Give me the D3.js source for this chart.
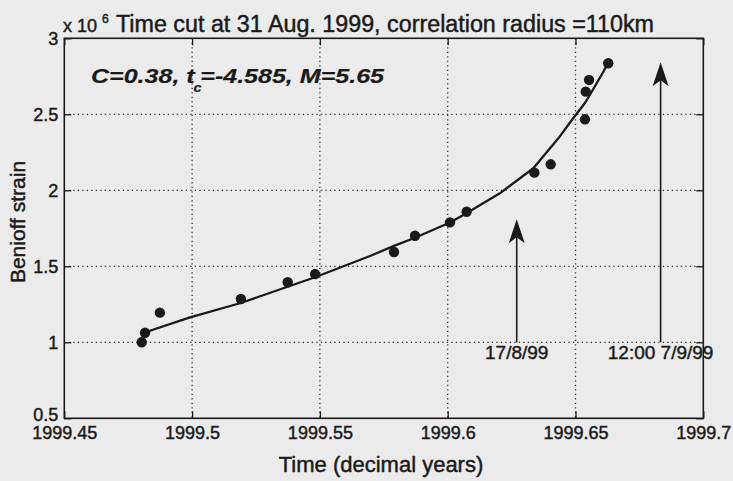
<!DOCTYPE html>
<html>
<head>
<meta charset="utf-8">
<script src="https://cdn.jsdelivr.net/npm/d3@7"></script>
<style>
  html, body { margin: 0; padding: 0; background: #ebebeb; }
  svg { display: block; }
  text { font-family: Arial, "Liberation Sans", sans-serif; fill: #1a1a1a; stroke: #1a1a1a; stroke-width: 0.45px; }
  text.ann { stroke-width: 0.2px; }
</style>
</head>
<body>
<svg id="chart" width="733" height="481"></svg>
<script>
// ---- data (Benioff strain in units of 10^6) ----
const eventTimes  = [1999.4803, 1999.4816, 1999.4874, 1999.5191, 1999.5374, 1999.5481, 1999.5790, 1999.5872,
                     1999.6009, 1999.6074, 1999.6339, 1999.6403, 1999.6537, 1999.6540, 1999.6553, 1999.6628];
const eventStrain = [1.000, 1.063, 1.195, 1.285, 1.395, 1.449, 1.594, 1.701,
                     1.789, 1.859, 2.116, 2.171, 2.467, 2.649, 2.726, 2.836];

const fitTimes  = [1999.4809, 1999.4835, 1999.4992, 1999.5187, 1999.5371, 1999.5481, 1999.5696, 1999.5790,
                   1999.5872, 1999.6009, 1999.6075, 1999.6204, 1999.6335, 1999.6433, 1999.6491, 1999.6537,
                   1999.6556, 1999.6609, 1999.6623];
const fitStrain = [1.037, 1.076, 1.164, 1.257, 1.364, 1.428, 1.568, 1.634,
                   1.688, 1.788, 1.851, 1.980, 2.145, 2.342, 2.474, 2.574,
                   2.627, 2.780, 2.824];

const xTicks = [1999.45, 1999.5, 1999.55, 1999.6, 1999.65, 1999.7];
const xTickLabels = ["1999.45", "1999.5", "1999.55", "1999.6", "1999.65", "1999.7"];
const yTicks = [0.5, 1, 1.5, 2, 2.5, 3];
const yTickLabels = ["0.5", "1", "1.5", "2", "2.5", "3"];

const arrowTimes  = [1999.6270, 1999.6833];
const arrowTops   = [1.809, 2.842];
const arrowBase   = 1.0;
const arrowLabels = ["17/8/99", "12:00 7/9/99"];

const titleText = "Time cut at 31 Aug. 1999, correlation radius =110km";
const xLabel = "Time (decimal years)";
const yLabel = "Benioff strain";

// ---- layout ----
const svg = d3.select("#chart");
const L = 64.3, R = 703.3, T = 38.3, B = 418.3;
const x = d3.scaleLinear().domain([1999.45, 1999.7]).range([L, R]);
const y = d3.scaleLinear().domain([0.5, 3]).range([B, T]);
const ink = "#1a1a1a";

// grid
const grid = svg.append("g");
grid.selectAll("line.vg").data(xTicks.slice(1, -1)).join("line")
  .attr("x1", d => x(d)).attr("x2", d => x(d)).attr("y1", T).attr("y2", B)
  .attr("stroke", "#333").attr("stroke-width", 1.3).attr("stroke-dasharray", "1.3,3.2");
grid.selectAll("line.hg").data(yTicks.slice(1, -1)).join("line")
  .attr("x1", L).attr("x2", R).attr("y1", d => y(d)).attr("y2", d => y(d))
  .attr("stroke", "#333").attr("stroke-width", 1.3).attr("stroke-dasharray", "1.3,3.2");

// axes via d3 (ticks inward)
const tl = 7;
svg.append("g").attr("transform", `translate(0,${B})`)
  .call(d3.axisBottom(x).tickValues(xTicks).tickSize(-tl).tickFormat((d, i) => xTickLabels[i]))
  .call(g => { g.select(".domain").remove();
    g.selectAll("line").attr("stroke", ink).attr("stroke-width", 1.3);
    g.selectAll("text").attr("font-size", 18).attr("fill", ink).attr("dy", "0.71em").attr("y", 8); });
svg.append("g").attr("transform", `translate(0,${T})`)
  .call(d3.axisTop(x).tickValues(xTicks).tickSize(-tl).tickFormat(""))
  .call(g => { g.select(".domain").remove(); g.selectAll("line").attr("stroke", ink).attr("stroke-width", 1.3); });
svg.append("g").attr("transform", `translate(${L},0)`)
  .call(d3.axisLeft(y).tickValues(yTicks).tickSize(-tl).tickFormat((d, i) => yTickLabels[i]))
  .call(g => { g.select(".domain").remove();
    g.selectAll("line").attr("stroke", ink).attr("stroke-width", 1.3);
    g.selectAll("text").attr("font-size", 18).attr("fill", ink).attr("x", -6)
      .attr("dy", (d) => d === 0.5 ? "0.12em" : "0.32em"); });
svg.append("g").attr("transform", `translate(${R},0)`)
  .call(d3.axisRight(y).tickValues(yTicks).tickSize(-tl).tickFormat(""))
  .call(g => { g.select(".domain").remove(); g.selectAll("line").attr("stroke", ink).attr("stroke-width", 1.3); });

// box
svg.append("rect").attr("x", L).attr("y", T).attr("width", R - L).attr("height", B - T)
  .attr("fill", "none").attr("stroke", ink).attr("stroke-width", 1.6);

// fitted curve
const fitData = fitTimes.map((t, i) => [t, fitStrain[i]]);
svg.append("path").datum(fitData)
  .attr("d", d3.line().x(d => x(d[0])).y(d => y(d[1])))
  .attr("fill", "none").attr("stroke", ink).attr("stroke-width", 2.3).attr("stroke-linejoin", "round");

// events
svg.append("g").selectAll("circle").data(eventTimes.map((t, i) => [t, eventStrain[i]])).join("circle")
  .attr("cx", d => x(d[0])).attr("cy", d => y(d[1])).attr("r", 5.2).attr("fill", ink);

// arrows
const arrows = svg.append("g");
arrowTimes.forEach((t, i) => {
  const ax = x(t), top = y(arrowTops[i]), bot = y(arrowBase);
  arrows.append("line").attr("x1", ax).attr("x2", ax).attr("y1", bot).attr("y2", top + 14)
    .attr("stroke", ink).attr("stroke-width", 1.6);
  arrows.append("path")
    .attr("d", `M${ax},${top} L${ax + 8},${top + 24} L${ax},${top + 18} L${ax - 8},${top + 24} Z`)
    .attr("fill", ink);
  arrows.append("text").attr("x", ax).attr("y", bot + 17).attr("text-anchor", "middle")
    .attr("font-size", 19).text(arrowLabels[i]);
});

// annotation
const ann = svg.append("text").attr("class", "ann").attr("x", 91).attr("y", 83)
  .attr("font-size", 21).attr("font-weight", "bold").attr("font-style", "italic");
ann.append("tspan").text("C=0.38, t");
ann.append("tspan").attr("font-size", 12).attr("dy", 9).attr("dx", -1).text("c");
ann.append("tspan").attr("dy", -9).attr("dx", -1).text("=-4.585, M=5.65");
ann.attr("textLength", 293).attr("lengthAdjust", "spacingAndGlyphs");

// title and exponent
svg.append("text").attr("x", 63).attr("y", 31.5).attr("font-size", 18).text("x 10");
svg.append("text").attr("x", 102).attr("y", 23).attr("font-size", 12).text("6");
svg.append("text").attr("x", 116).attr("y", 31.5).attr("font-size", 23)
  .attr("textLength", 538).attr("lengthAdjust", "spacingAndGlyphs").text(titleText);

// axis labels
svg.append("text").attr("x", 381).attr("y", 472).attr("text-anchor", "middle")
  .attr("font-size", 22).text(xLabel);
svg.append("text").attr("transform", "translate(25,222) rotate(-90)").attr("text-anchor", "middle")
  .attr("font-size", 21).text(yLabel);
</script>
</body>
</html>
